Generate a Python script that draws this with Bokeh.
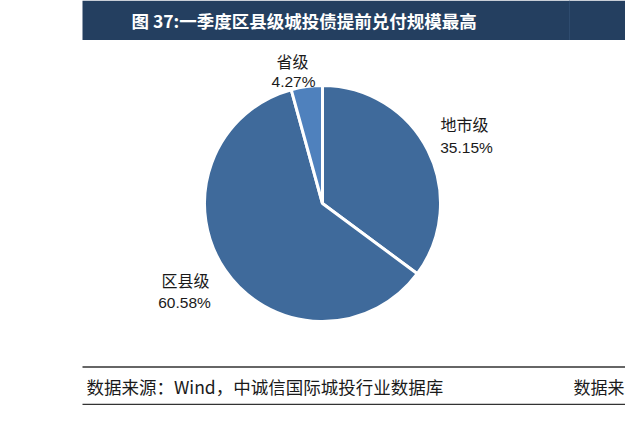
import math
from bokeh.plotting import figure
from bokeh.models import ColumnDataSource
from bokeh.core.properties import value
from bokeh.embed import file_html
from bokeh.resources import INLINE

# ---- data ----
categories = ["地市级", "区县级", "省级"]
shares = [35.15, 60.58, 4.27]
pct_labels = ["35.15%", "60.58%", "4.27%"]
title_text = "图 37:一季度区县级城投债提前兑付规模最高"
source_text = "数据来源：Wind，中诚信国际城投行业数据库"
neighbor_text = "数据来"

# ---- layout constants ----
W, H = 625, 405
CX, CY, R = 322, 202, 118
colors = ["#3F6A9B", "#3F6A9B", "#4F81BD"]
label_pos = [(464, 282), (185, 126), (292, 345)]   # name label centres
pct_pos = [(466, 258), (184, 103), (293, 324)]     # percentage label centres

p = figure(width=W, height=H, x_range=(0, W), y_range=(0, H),
           output_backend="svg", toolbar_location=None, min_border=0)
p.axis.visible = False
p.grid.visible = False
p.outline_line_color = None
p.background_fill_color = "white"
p.border_fill_color = "white"

# header bar
p.quad(left=[82], right=[W], bottom=[365.5], top=[H], fill_color="#243F60", line_color=None)
p.segment(x0=[569], y0=[365.5], x1=[569], y1=[H], line_color="#2E4B6E", line_width=1)
p.text(x=[131], y=[385], text=[title_text], text_color="white",
       text_font=value("Noto Sans CJK SC"), text_font_size="17.5px", text_font_style="bold",
       text_align="left", text_baseline="middle")

# pie
total = sum(shares)
starts, ends = [], []
cum = 0.0
for s in shares:
    starts.append(math.radians(90 - cum / total * 360))
    cum += s
    ends.append(math.radians(90 - cum / total * 360))
src = ColumnDataSource(dict(start=starts, end=ends, color=colors, cat=categories))
p.wedge(x=CX, y=CY, radius=R, start_angle="start", end_angle="end", direction="clock",
        fill_color="color", line_color="white", line_width=3, source=src)

# labels
p.text(x=[q[0] for q in label_pos], y=[q[1] for q in label_pos], text=categories,
       text_color="#1a1a1a", text_font=value("Noto Sans CJK SC"), text_font_size="16px",
       text_align="center", text_baseline="middle")
p.text(x=[q[0] for q in pct_pos], y=[q[1] for q in pct_pos], text=pct_labels,
       text_color="#1a1a1a", text_font=value("Liberation Sans"), text_font_size="15.5px",
       text_align="center", text_baseline="middle")

# footer
p.segment(x0=[82, 82], y0=[38.5, 1], x1=[W, W], y1=[38.5, 1], line_color="#333333", line_width=1.5)
p.text(x=[86], y=[19], text=[source_text], text_color="#1a1a1a",
       text_font=value("Noto Sans CJK SC"), text_font_size="17.5px",
       text_align="left", text_baseline="middle")
p.text(x=[573], y=[19], text=[neighbor_text], text_color="#1a1a1a",
       text_font=value("Noto Sans CJK SC"), text_font_size="17px",
       text_align="left", text_baseline="middle")

open("out.html", "w").write(file_html(p, INLINE))
